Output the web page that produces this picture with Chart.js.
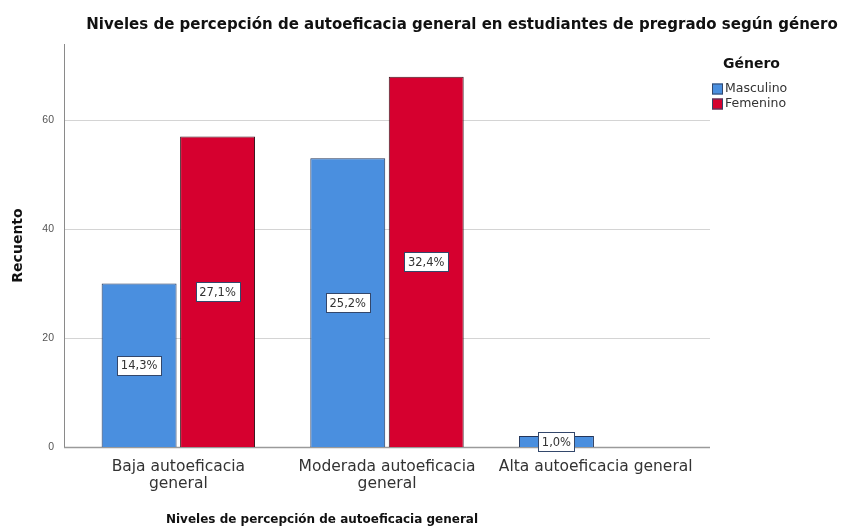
<!DOCTYPE html>
<html><head><meta charset="utf-8">
<script src="https://cdn.jsdelivr.net/npm/chart.js@4/dist/chart.umd.min.js"></script>
<style>html,body{margin:0;padding:0;background:#fff}#wrap{width:849px;height:528px}</style>
</head><body><div id="wrap"><canvas id="c" width="849" height="528"></canvas></div>
<script>
const chartTitle = 'Niveles de percepción de autoeficacia general en estudiantes de pregrado según género';
const xTitle = 'Niveles de percepción de autoeficacia general';
const yTitle = 'Recuento';
const legendTitle = 'Género';
const categories = [['Baja autoeficacia', 'general'], ['Moderada autoeficacia', 'general'], 'Alta autoeficacia general'];
const seriesNames = ['Masculino', 'Femenino'];
const masculino = [30, 53, 2];
const femenino = [57, 68, 0];
const pctMasculino = ['14,3%', '25,2%', '1,0%'];
const pctFemenino = ['27,1%', '32,4%', ''];
const yTickStep = 20;
const yMax = 74;

const FONT = '"DejaVu Sans", sans-serif';
const TICKFONT = '"Liberation Sans", Arial, sans-serif';
const colors = ['#4a8fdf', '#d6002f'];
const pctLabels = [pctMasculino, pctFemenino];

const framePlugin = {
  id: 'frame',
  beforeDatasetsDraw(chart) {
    const ctx = chart.ctx, a = chart.chartArea, y = chart.scales.y;
    const x0 = a.left - 10, x1 = a.right + 10;
    ctx.save();
    y.ticks.forEach(t => {
      const py = Math.round(y.getPixelForValue(t.value)) + 0.5;
      ctx.strokeStyle = t.value === 0 ? '#9a9a9a' : '#d4d4d4';
      ctx.lineWidth = t.value === 0 ? 1.5 : 1;
      ctx.beginPath(); ctx.moveTo(x0, py); ctx.lineTo(x1, py); ctx.stroke();
    });
    ctx.strokeStyle = '#8a8a8a';
    ctx.lineWidth = 1;
    ctx.beginPath(); ctx.moveTo(x0 + 0.5, a.top); ctx.lineTo(x0 + 0.5, y.getPixelForValue(0)); ctx.stroke();
    ctx.restore();
  }
};

const labelPlugin = {
  id: 'pctLabels',
  afterDatasetsDraw(chart) {
    const ctx = chart.ctx;
    ctx.save();
    ctx.font = '11.5px ' + FONT;
    ctx.textAlign = 'center';
    ctx.textBaseline = 'middle';
    chart.data.datasets.forEach((ds, di) => {
      const meta = chart.getDatasetMeta(di);
      meta.data.forEach((bar, i) => {
        const txt = pctLabels[di][i];
        if (!txt) return;
        const cx = bar.x, cy = (bar.y + bar.base) / 2;
        const w = Math.round(ctx.measureText(txt).width + 7), h = 19;
        const bx = Math.round(cx - w / 2) + 0.5, by = Math.round(cy - h / 2) + 0.5;
        ctx.fillStyle = '#ffffff';
        ctx.fillRect(bx, by, w, h);
        ctx.strokeStyle = '#33476b';
        ctx.lineWidth = 1;
        ctx.strokeRect(bx, by, w, h);
        ctx.fillStyle = '#333333';
        ctx.fillText(txt, cx, cy + 1);
      });
    });
    ctx.restore();
  }
};

const textPlugin = {
  id: 'texts',
  afterDraw(chart) {
    const ctx = chart.ctx, a = chart.chartArea;
    ctx.save();
    ctx.fillStyle = '#111';
    ctx.textBaseline = 'middle';
    ctx.textAlign = 'center';
    ctx.font = 'bold 15px ' + FONT;
    ctx.fillText(chartTitle, a.left + 388, 25);
    ctx.font = 'bold 12px ' + FONT;
    ctx.fillText(xTitle, a.left + 248, 520);
    // legend
    ctx.textAlign = 'left';
    ctx.font = 'bold 14px ' + FONT;
    ctx.fillText(legendTitle, a.right + 23, 64);
    ctx.font = '12.5px ' + FONT;
    chart.data.datasets.forEach((ds, i) => {
      const yy = 89 + i * 15;
      ctx.fillStyle = ds.backgroundColor;
      ctx.fillRect(a.right + 12, yy - 5.5, 11, 11);
      ctx.strokeStyle = '#33476b';
      ctx.strokeRect(a.right + 12.5, yy - 5, 10, 10);
      ctx.fillStyle = '#333';
      ctx.fillText(ds.label, a.right + 25, yy);
    });
    ctx.restore();
  }
};

new Chart(document.getElementById('c'), {
  type: 'bar',
  data: {
    labels: categories,
    datasets: [
      { label: seriesNames[0], data: masculino, backgroundColor: colors[0], borderColor: '#24365a', borderWidth: 1 },
      { label: seriesNames[1], data: femenino, backgroundColor: colors[1], borderColor: '#3a1a20', borderWidth: 1 }
    ]
  },
  options: {
    responsive: false,
    animation: false,
    devicePixelRatio: 1,
    layout: { padding: { top: 44, right: 149, left: 0, bottom: 0 } },
    datasets: { bar: { categoryPercentage: 0.752, barPercentage: 0.955 } },
    plugins: { legend: { display: false }, title: { display: false }, tooltip: { enabled: false } },
    scales: {
      x: {
        grid: { display: false }, border: { display: false },
        ticks: { font: { family: FONT, size: 15.5, lineHeight: 1.1 }, color: '#333', padding: 3, maxRotation: 0, autoSkip: false },
        afterFit(s) { s.height = 81; }
      },
      y: {
        min: 0, max: yMax,
        grid: { display: false }, border: { display: false },
        ticks: { stepSize: yTickStep, includeBounds: false, font: { family: TICKFONT, size: 10.5 }, color: '#555', padding: 12 },
        title: { display: true, text: yTitle, font: { family: FONT, size: 14, weight: 'bold' }, color: '#111', padding: { top: 10, bottom: 0 } },
        afterFit(s) { s.width = 74; }
      }
    }
  },
  plugins: [framePlugin, labelPlugin, textPlugin]
});
</script>
</body></html>
